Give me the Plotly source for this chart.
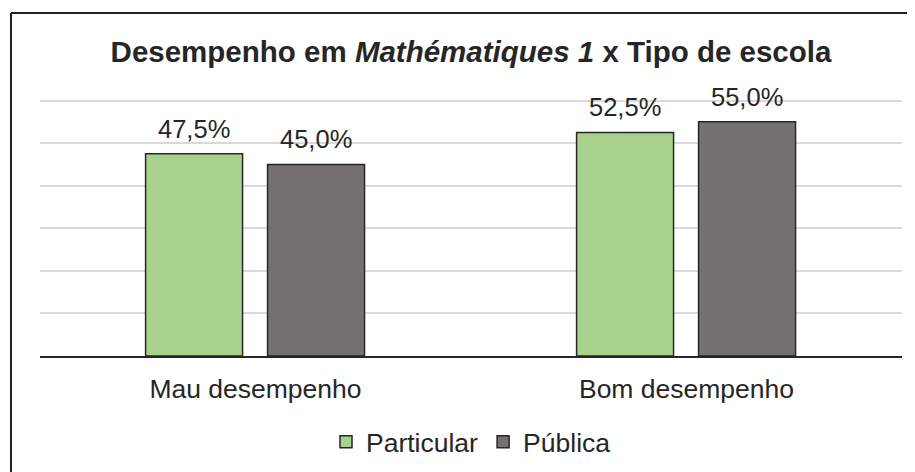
import plotly.graph_objects as go

categories = ["Mau desempenho", "Bom desempenho"]
series_names = ["Particular", "Pública"]
particular = [47.5, 52.5]
publica = [45.0, 55.0]
series_values = [particular, publica]

colors = ["#a9d18e", "#767171"]
offsets = [-0.255, 0.028]
bar_width = 0.225
text_color = "#262626"
font_family = "Liberation Sans, Arial, sans-serif"

# the page body keeps its default 8px margin, so the figure is sized for the rest
W, H = 907, 464
PLOT_L, PLOT_R, PLOT_T, PLOT_B = 32, 894, 84, 348
plot_w = PLOT_R - PLOT_L
plot_h = PLOT_B - PLOT_T
cat_px = plot_w / len(categories)

fig = go.Figure()
for name, values, color, off in zip(series_names, series_values, colors, offsets):
    fig.add_trace(
        go.Bar(
            x=categories,
            y=values,
            name=name,
            marker=dict(color=color, line=dict(color="#262626", width=1.5)),
            width=bar_width,
            offset=off,
            hoverinfo="x+y+name",
        )
    )

annotations = []
for values, off in zip(series_values, offsets):
    for cat, v in zip(categories, values):
        annotations.append(
            dict(
                x=cat,
                y=v,
                xref="x",
                yref="y",
                text=f"{v:.1f}%".replace(".", ","),
                showarrow=False,
                xanchor="center",
                yanchor="bottom",
                xshift=(off + bar_width / 2) * cat_px,
                yshift=9,
                font=dict(size=25.5, color=text_color, family=font_family),
            )
        )

box_x = (3 - PLOT_L) / plot_w
box_y = (PLOT_B - 5) / plot_h

fig.update_layout(
    width=W,
    height=H,
    paper_bgcolor="white",
    plot_bgcolor="white",
    margin=dict(l=PLOT_L, r=W - PLOT_R, t=PLOT_T, b=H - PLOT_B, autoexpand=False),
    font=dict(family=font_family, color=text_color),
    title=dict(
        text="<b>Desempenho em <i>Mathématiques 1</i> x Tipo de escola</b>",
        font=dict(size=29.5, color=text_color, family=font_family),
        x=0.5,
        xref="paper",
        xanchor="center",
        y=1 - 44 / H,
        yref="container",
        yanchor="middle",
    ),
    barmode="group",
    legend=dict(
        orientation="h",
        x=0.5,
        xanchor="center",
        y=(PLOT_B - 434) / plot_h,
        yanchor="middle",
        font=dict(size=26.5, color=text_color, family=font_family),
        itemwidth=30,
        traceorder="normal",
    ),
    showlegend=True,
    annotations=annotations,
    shapes=[
        dict(type="line", xref="paper", yref="paper",
             x0=box_x, x1=box_x, y0=box_y, y1=-0.6,
             line=dict(color="#231f20", width=2)),
        dict(type="line", xref="paper", yref="paper",
             x0=box_x, x1=1.05, y0=box_y, y1=box_y,
             line=dict(color="#231f20", width=2)),
    ],
)
fig.update_xaxes(
    showline=True,
    linecolor="#262626",
    linewidth=2,
    ticks="",
    ticklabelstandoff=8,
    tickfont=dict(size=26.5, color=text_color, family=font_family),
)
fig.update_yaxes(
    range=[0, 62],
    dtick=10,
    showticklabels=False,
    showgrid=True,
    gridcolor="#d9d9d9",
    gridwidth=1.5,
    zeroline=False,
)

fig.write_html("out.html")
